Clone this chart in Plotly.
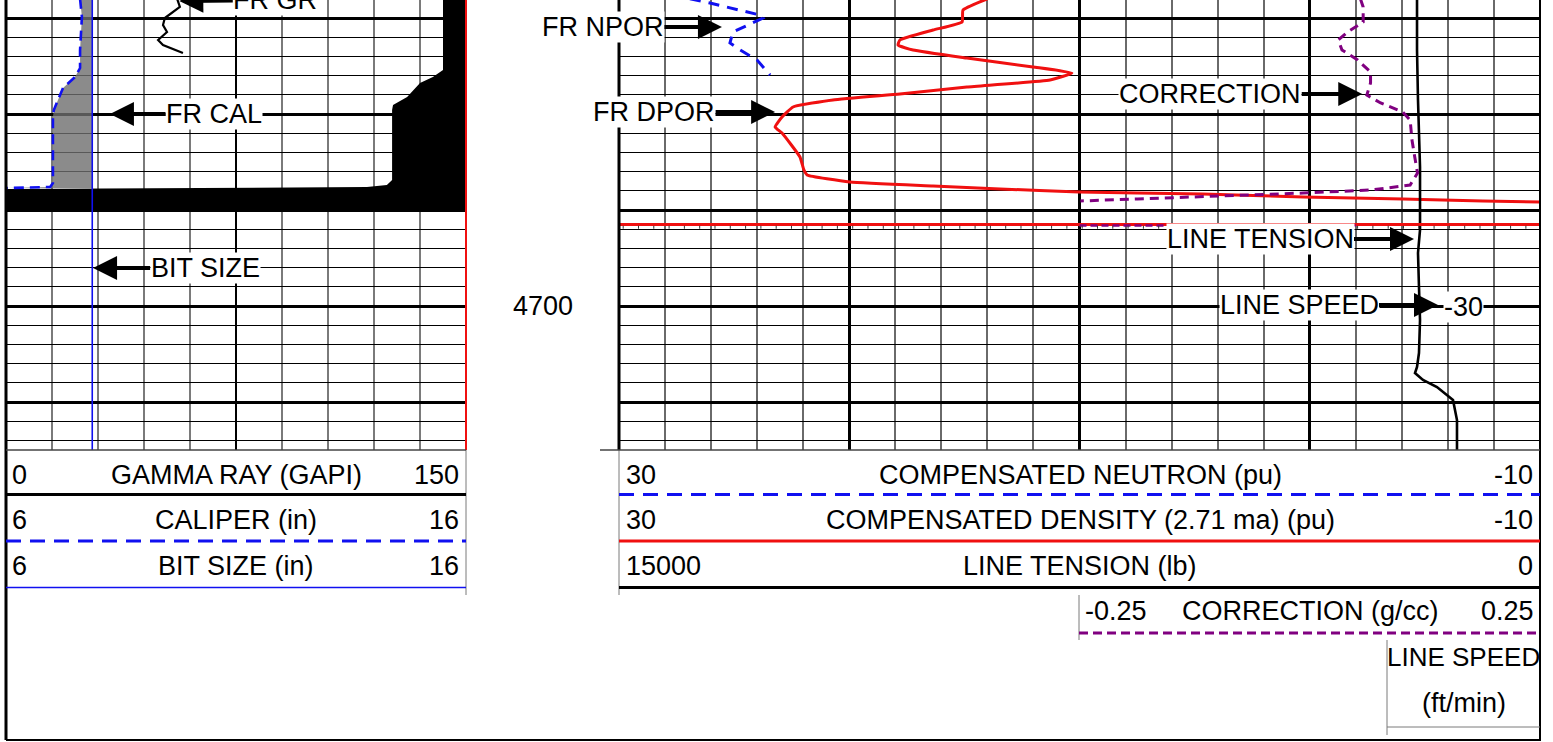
import plotly.graph_objects as go

W, H = 1553, 742
FONT = "Liberation Sans, Arial, sans-serif"

# ---------------- depth scale ----------------
DEPTH_TOP = 4668.125
DEPTH_BOTTOM = 4715.0
DEPTH_LABEL = 4700

# ---------------- track 1 : gamma ray / caliper ----------------
GR_MIN, GR_MAX = 0, 150
CAL_MIN, CAL_MAX = 6, 16

GR_DEPTH = [4668.0, 4668.85, 4670.0, 4670.73, 4671.46, 4672.29, 4672.81, 4673.65]
GR_VALUES = [55.8, 56.7, 51.8, 51.2, 52.5, 49.6, 51.2, 57.7]

SHADE_DEPTH = [4668.0, 4675.42, 4676.15, 4676.77, 4678.23, 4679.06, 4679.58,
               4686.88, 4687.40, 4687.60, 4687.71, 4687.81, 4690.0]
SHADE_GR = [142.5, 142.5, 139.2, 135.0, 130.8, 126.2, 125.9,
            125.9, 124.2, 117.7, 63.3, 0.0, 0.0]

CAL_DEPTH = [4668.0, 4669.90, 4673.33, 4675.21, 4676.15, 4677.29, 4678.54,
             4679.58, 4680.31, 4687.19, 4687.60, 4687.71]
CAL_VALUES = [7.61, 7.65, 7.61, 7.61, 7.50, 7.24, 7.13, 7.04, 7.02, 7.02, 6.96, 6.02]
BIT_SIZE = 7.875

# ---------------- track 3 : porosity / tension / correction ----------------
POR_LEFT, POR_RIGHT = 30, -10
TEN_LEFT, TEN_RIGHT = 15000, 0
COR_MIN, COR_MAX = -0.25, 0.25

NPOR_DEPTH = [4668.0, 4668.44, 4669.69, 4670.0, 4671.46, 4672.6, 4673.33, 4674.38, 4675.94]
NPOR_VALUES = [26.92, 26.05, 23.88, 23.75, 25.05, 25.18, 24.74, 24.0, 23.44]

DPOR_DEPTH = [4668.0, 4669.17, 4670.42, 4671.25, 4672.29, 4672.81, 4673.33, 4674.17,
              4675.10, 4675.73, 4676.46, 4677.19, 4677.92, 4678.54, 4679.27, 4680.31,
              4681.35, 4681.98, 4684.48, 4685.83, 4686.35, 4687.08, 4687.50, 4687.81,
              4688.13, 4688.23, 4688.33, 4688.65, 4688.85, 4689.06, 4689.17]
DPOR_VALUES = [14.0, 15.06, 15.1, 16.36, 17.8, 17.88, 17.23, 14.89,
               12.02, 10.33, 11.28, 14.89, 17.8, 20.71, 22.44, 22.92,
               23.22, 22.92, 22.14, 21.97, 21.83, 19.97, 16.36, 13.45,
               10.02, 7.5, 4.64, 0.29, -4.05, -7.52, -10.0]

CORR_DEPTH = [4668.0, 4668.85, 4670.42, 4671.46, 4672.29, 4673.33, 4674.38, 4675.63,
              4676.77, 4678.02, 4678.85, 4679.79, 4680.63, 4682.71, 4684.48, 4686.15,
              4687.40, 4687.92, 4688.23, 4688.65, 4688.85, 4689.06]
CORR_VALUES = [0.055, 0.058, 0.058, 0.041, 0.031, 0.035, 0.052, 0.066,
               0.066, 0.062, 0.077, 0.101, 0.109, 0.111, 0.114, 0.117,
               0.109, 0.066, -0.007, -0.116, -0.187, -0.249]

TENSION_DEPTH = [4668.0, 4673.33, 4678.54, 4685.52, 4692.08, 4694.48, 4698.02, 4701.46,
                 4704.90, 4706.35, 4706.98, 4707.71, 4708.44, 4709.79, 4711.88, 4715.0]
TENSION_VALUES = [2003, 2003, 1987, 1954, 1954, 1987, 1971, 1954,
                  1971, 2003, 2036, 1906, 1678, 1417, 1352, 1352]

LINE_SPEED = -30
MARKER_DEPTH = 4691.5

# ---------------- page geometry (pixels) ----------------
T1_X0, T1_X1 = 6, 466
T3_X0, T3_X1 = 619, 1540
COR_X0 = 1079
SPEED_X0 = 1387
GRID_BOTTOM = 450


def px(x):
    return x / W


def py(y):
    return 1 - y / H


BLUE = "#1010f0"
RED = "#f01010"
PURPLE = "#800080"
GRAY = "#7a7a7a"

fig = go.Figure()

# gamma-ray shading (filled to the right edge of the track)
fig.add_trace(go.Scatter(
    x=SHADE_GR + [GR_MAX, GR_MAX], y=SHADE_DEPTH + [SHADE_DEPTH[-1], SHADE_DEPTH[0]],
    mode="lines", line=dict(width=0, color="black"), fill="toself", fillcolor="black",
    xaxis="x", yaxis="y", hoverinfo="skip"))

# mudcake fill between caliper and bit size
fig.add_trace(go.Scatter(
    x=[BIT_SIZE, BIT_SIZE], y=[CAL_DEPTH[0], CAL_DEPTH[-1]], mode="lines",
    line=dict(width=0), xaxis="x2", yaxis="y", hoverinfo="skip"))
fig.add_trace(go.Scatter(
    x=CAL_VALUES, y=CAL_DEPTH, mode="lines", fill="tonextx",
    fillcolor="rgba(110,110,110,0.8)", line=dict(width=0),
    xaxis="x2", yaxis="y", hoverinfo="skip"))

# bit size
fig.add_trace(go.Scatter(
    x=[BIT_SIZE, BIT_SIZE], y=[DEPTH_TOP - 1, DEPTH_BOTTOM + 1], mode="lines",
    line=dict(color=BLUE, width=1.6), xaxis="x2", yaxis="y"))

# caliper
fig.add_trace(go.Scatter(
    x=CAL_VALUES, y=CAL_DEPTH, mode="lines",
    line=dict(color=BLUE, width=2.6, dash="10px,6px"), xaxis="x2", yaxis="y"))

# gamma ray
fig.add_trace(go.Scatter(
    x=GR_VALUES, y=GR_DEPTH, mode="lines",
    line=dict(color="black", width=2.2), xaxis="x", yaxis="y"))

# neutron porosity
fig.add_trace(go.Scatter(
    x=NPOR_VALUES, y=NPOR_DEPTH, mode="lines",
    line=dict(color=BLUE, width=3, dash="11px,8px"), xaxis="x3", yaxis="y2"))

# density porosity
fig.add_trace(go.Scatter(
    x=DPOR_VALUES, y=DPOR_DEPTH, mode="lines", line_shape="spline",
    line=dict(color=RED, width=3, smoothing=0.4), xaxis="x3", yaxis="y2"))

# density correction
fig.add_trace(go.Scatter(
    x=CORR_VALUES, y=CORR_DEPTH, mode="lines",
    line=dict(color=PURPLE, width=3, dash="9px,6px"), xaxis="x5", yaxis="y2"))

# line tension
fig.add_trace(go.Scatter(
    x=TENSION_VALUES, y=TENSION_DEPTH, mode="lines",
    line=dict(color="black", width=2.6), xaxis="x4", yaxis="y2"))

shapes = []


def pline(x0, y0, x1, y1, color="black", width=1, dash=None):
    d = dict(type="line", xref="paper", yref="paper",
             x0=px(x0), y0=py(y0), x1=px(x1), y1=py(y1),
             line=dict(color=color, width=width))
    if dash:
        d["line"]["dash"] = dash
    shapes.append(d)


# marker line across the porosity track
shapes.append(dict(type="line", xref="x3 domain", yref="y2", x0=0, x1=1,
                   y0=MARKER_DEPTH, y1=MARKER_DEPTH, line=dict(color=RED, width=3)))
shapes.append(dict(type="line", xref="x5", yref="y2", x0=COR_MIN, x1=0.05,
                   y0=MARKER_DEPTH + 0.12, y1=MARKER_DEPTH + 0.12,
                   line=dict(color=PURPLE, width=2.5, dash="7px,4px")))
shapes.append(dict(type="line", xref="x3 domain", yref="y2", x0=0.004, x1=1,
                   y0=MARKER_DEPTH + 0.3, y1=MARKER_DEPTH + 0.3,
                   line=dict(color="#333", width=3, dash="1px,14.3px")))

# frame and track borders
pline(6, 0, 6, 740, width=3)
pline(T3_X1, 0, T3_X1, 741, width=2)
pline(6, 740, T3_X1, 740, width=2)
pline(T1_X1, 0, T1_X1, GRID_BOTTOM, color=RED, width=2)
pline(T1_X1, GRID_BOTTOM, T1_X1, 595, color=GRAY, width=1)
pline(T1_X0, GRID_BOTTOM, T1_X1, GRID_BOTTOM, color="#444", width=1.5)
pline(T3_X0, 0, T3_X0, GRID_BOTTOM, width=3)
pline(T3_X0, GRID_BOTTOM, T3_X0, 595, color=GRAY, width=1)
pline(600, GRID_BOTTOM, T3_X1, GRID_BOTTOM, color="#444", width=1.5)
pline(COR_X0, 595, COR_X0, 640, color=GRAY, width=1)
pline(SPEED_X0, 640, SPEED_X0, 735, color=GRAY, width=1)

# header legend lines
pline(T1_X0, 494.5, T1_X1, 494.5, width=3)
pline(T1_X0, 541, T1_X1, 541, color=BLUE, width=3, dash="15px,9px")
pline(T1_X0, 587.5, T1_X1, 587.5, color=BLUE, width=1.6)
pline(T3_X0, 494.5, T3_X1, 494.5, color=BLUE, width=3, dash="15px,9px")
pline(T3_X0, 541, T3_X1, 541, color=RED, width=3)
pline(T3_X0, 587.5, T3_X1, 587.5, width=3)
pline(COR_X0, 633, T3_X1, 633, color=PURPLE, width=3, dash="9px,5px")
pline(SPEED_X0, 727, T3_X1, 727, color=GRAY, width=1)

annotations = []
FS = 27


def text(x, y, s, anchor="center", size=FS):
    annotations.append(dict(xref="paper", yref="paper", x=px(x), y=py(y), text=s,
                            showarrow=False, xanchor=anchor, yanchor="middle",
                            font=dict(family=FONT, size=size, color="black")))


def header_row(x0, x1, y, left, title, right):
    text(x0 + 4, y, left, "left")
    text((x0 + x1) / 2, y, title)
    text(x1 - 5, y, right, "right")


header_row(T1_X0, T1_X1, 475, str(GR_MIN), "GAMMA RAY (GAPI)", str(GR_MAX))
header_row(T1_X0, T1_X1, 520, str(CAL_MIN), "CALIPER (in)", str(CAL_MAX))
header_row(T1_X0, T1_X1, 566, str(CAL_MIN), "BIT SIZE (in)", str(CAL_MAX))
header_row(T3_X0 + 1, T3_X1, 475, str(POR_LEFT), "COMPENSATED NEUTRON (pu)", str(POR_RIGHT))
header_row(T3_X0 + 1, T3_X1, 520, str(POR_LEFT), "COMPENSATED DENSITY (2.71 ma) (pu)", str(POR_RIGHT))
header_row(T3_X0 + 1, T3_X1, 566, str(TEN_LEFT), "LINE TENSION (lb)", str(TEN_RIGHT))
header_row(COR_X0, T3_X1 + 1, 611, str(COR_MIN), "CORRECTION (g/cc)", str(COR_MAX))
text((SPEED_X0 + T3_X1) / 2, 657, "LINE SPEED", size=26)
text((SPEED_X0 + T3_X1) / 2, 703, "(ft/min)")

# depth label
annotations.append(dict(xref="paper", yref="y", x=px(543), y=DEPTH_LABEL,
                        text=str(DEPTH_LABEL), showarrow=False,
                        font=dict(family=FONT, size=FS, color="black")))


def label(s, xref, yref, x, y, ax):
    annotations.append(dict(xref=xref, yref=yref, x=x, y=y, text=s, showarrow=True,
                            ax=ax, ay=0, axref="pixel", ayref="pixel",
                            arrowhead=2, arrowsize=1.2, arrowwidth=4, arrowcolor="black",
                            standoff=0, bgcolor="white", borderpad=0,
                            font=dict(family=FONT, size=FS, color="black")))


label("FR GR", "x", "paper", 56.5, 1 + 3 / H, 96)
label("FR CAL", "x", "y", 33.9, 4680.0, 104)
label("BIT SIZE", "x", "y", 28.4, 4696.04, 112)
label("FR NPOR", "x3", "y2", 25.53, 4670.94, -119)
label("FR DPOR", "x3", "y2", 23.22, 4679.79, -121)
label("CORRECTION", "x5", "y2", 0.057, 4677.92, -152)
label("LINE TENSION", "x4", "y2", 2052, 4693.02, -154)
label("LINE SPEED", "x4", "y2", 1661, 4699.9, -139)
annotations.append(dict(xref="x4", yref="y2", x=1254, y=4700.1, text=str(LINE_SPEED),
                        showarrow=False, bgcolor="white", borderpad=0,
                        font=dict(family=FONT, size=FS, color="black")))

ydom = [1 - GRID_BOTTOM / H, 1]
yaxis_common = dict(domain=ydom, range=[DEPTH_BOTTOM, DEPTH_TOP], showticklabels=False,
                    ticks="", zeroline=False, showline=False,
                    showgrid=True, dtick=10, tick0=DEPTH_LABEL, gridcolor="black", gridwidth=3,
                    minor=dict(dtick=2, tick0=DEPTH_LABEL, showgrid=True,
                               gridcolor="black", gridwidth=1))
hidden = dict(visible=False, showgrid=False, zeroline=False)

fig.update_layout(
    width=W, height=H, margin=dict(l=0, r=0, t=0, b=0),
    paper_bgcolor="white", plot_bgcolor="rgba(0,0,0,0)", showlegend=False,
    xaxis=dict(domain=[px(T1_X0), px(T1_X1)], range=[GR_MIN, GR_MAX], anchor="y",
               showticklabels=False, ticks="", zeroline=False, showline=False,
               showgrid=True, dtick=75, tick0=0, gridcolor="black", gridwidth=1.5,
               minor=dict(dtick=15, tick0=0, showgrid=True, gridcolor=GRAY, gridwidth=1.8)),
    xaxis2=dict(overlaying="x", anchor="y", range=[CAL_MIN, CAL_MAX], **hidden),
    yaxis=dict(anchor="x", **yaxis_common),
    xaxis3=dict(domain=[px(T3_X0), px(T3_X1)], range=[POR_LEFT, POR_RIGHT], anchor="y2",
                showticklabels=False, ticks="", zeroline=False, showline=False,
                showgrid=True, dtick=10, tick0=0, gridcolor="black", gridwidth=2.5,
                minor=dict(dtick=2, tick0=0, showgrid=True, gridcolor="#6a6a6a", gridwidth=1.8)),
    xaxis4=dict(overlaying="x3", anchor="y2", range=[TEN_LEFT, TEN_RIGHT], **hidden),
    xaxis5=dict(overlaying="x3", anchor="y2",
                range=[COR_MIN - (COR_MAX - COR_MIN), COR_MAX], **hidden),
    yaxis2=dict(anchor="x3", **yaxis_common),
    shapes=shapes, annotations=annotations,
)

fig.write_html("out.html")
